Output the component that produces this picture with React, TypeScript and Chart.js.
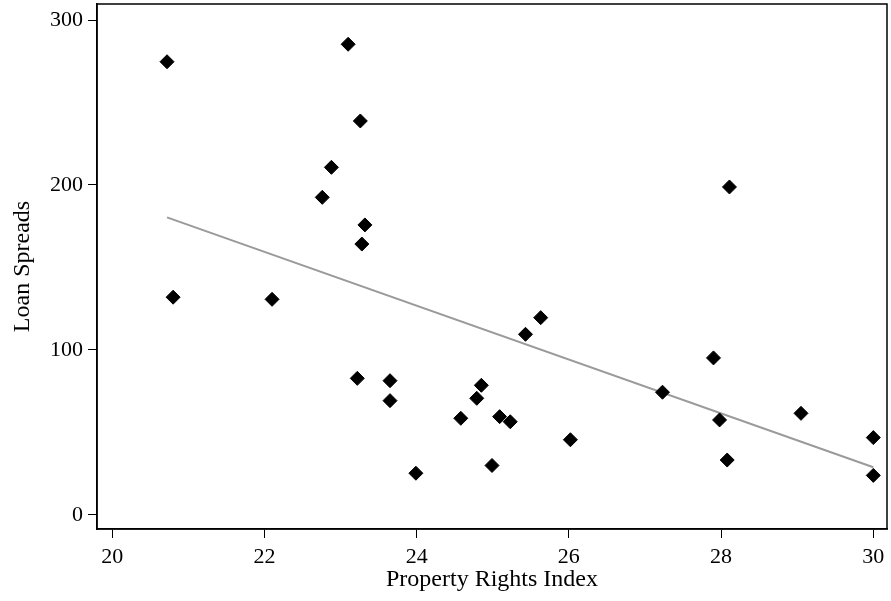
import { useEffect, useRef } from "react";
import { Chart, registerables } from "chart.js";

Chart.register(...registerables);

const propertyRights = [
  20.72, 20.8, 22.1, 23.1, 23.26, 22.88, 22.76, 23.32, 23.28, 23.22,
  23.65, 23.65, 23.99, 24.58, 24.79, 24.85, 24.99, 25.09, 25.23, 25.43,
  25.63, 28.11, 27.9, 27.23, 27.98, 29.05, 30.0, 28.08, 26.02, 30.0,
];
const loanSpreads = [
  274.7, 132, 130.7, 285.3, 238.8, 210.7, 192.5, 175.8, 164.2, 82.8,
  81.4, 69.3, 25.3, 58.6, 70.7, 78.6, 30, 59.6, 56.5, 109.5,
  119.6, 198.8, 95.2, 74.4, 57.6, 61.6, 46.9, 33.3, 45.6, 24,
];
const fitX = [20.72, 30.0];
const fitY = [180.4, 28.9];
const xTicks = [20, 22, 24, 26, 28, 30];
const yTicks = [0, 100, 200, 300];

const FONT = "'Liberation Serif', 'Times New Roman', serif";

const framePlugin = {
  id: "frame",
  afterDraw(chart: any) {
    const { ctx, chartArea } = chart;
    ctx.save();
    ctx.strokeStyle = "#000";
    ctx.lineWidth = 1.5;
    ctx.strokeRect(chartArea.left, chartArea.top, chartArea.right - chartArea.left, chartArea.bottom - chartArea.top);
    ctx.restore();
  },
};

export default function App() {
  const ref = useRef<HTMLCanvasElement | null>(null);
  useEffect(() => {
    document.body.style.margin = "0";
    const canvas = ref.current!;
    const chart = new Chart(canvas, {
      type: "scatter",
      data: {
        datasets: [
          {
            type: "line",
            data: fitX.map((x, i) => ({ x, y: fitY[i] })),
            borderColor: "#9a9a9a",
            borderWidth: 2,
            pointRadius: 0,
            fill: false,
            order: 2,
          } as any,
          {
            type: "scatter",
            data: propertyRights.map((x, i) => ({ x, y: loanSpreads[i] })),
            pointStyle: "rectRot",
            pointRadius: 7,
            backgroundColor: "#000",
            borderColor: "#000",
            borderWidth: 1,
            order: 1,
          },
        ],
      },
      options: {
        animation: false,
        responsive: false,
        maintainAspectRatio: false,
        layout: { autoPadding: false, padding: { left: 0, top: 4, right: 4, bottom: 0 } },
        plugins: { legend: { display: false }, tooltip: { enabled: false } },
        scales: {
          x: {
            type: "linear",
            min: 19.8,
            max: 30.18,
            afterBuildTicks: (s: any) => {
              s.ticks = xTicks.map((v) => ({ value: v }));
            },
            afterFit: (s: any) => {
              s.height = 72;
              s.paddingLeft = 0;
              s.paddingRight = 0;
            },
            grid: { display: true, drawOnChartArea: false, drawTicks: true, tickLength: 9, color: "#000", lineWidth: 1 },
            border: { display: true, color: "#000", width: 1.5 },
            ticks: { color: "#000", font: { family: FONT, size: 22 }, padding: 6, maxRotation: 0 },
            title: {
              display: true,
              text: "Property Rights Index",
              color: "#000",
              font: { family: FONT, size: 24 },
              padding: { top: 0, bottom: 7 },
            },
          },
          y: {
            type: "linear",
            min: -8.5,
            max: 309.7,
            afterBuildTicks: (s: any) => {
              s.ticks = yTicks.map((v) => ({ value: v }));
            },
            afterFit: (s: any) => {
              s.width = 97;
              s.paddingTop = 0;
              s.paddingBottom = 0;
            },
            grid: { display: true, drawOnChartArea: false, drawTicks: true, tickLength: 9, color: "#000", lineWidth: 1 },
            border: { display: true, color: "#000", width: 1.5 },
            ticks: { color: "#000", font: { family: FONT, size: 22 }, padding: 5 },
            title: {
              display: true,
              text: "Loan Spreads",
              color: "#000",
              font: { family: FONT, size: 24 },
              padding: { top: 8, bottom: 0 },
            },
          },
        },
      },
      plugins: [framePlugin],
    });
    return () => chart.destroy();
  }, []);
  return (
    <div style={{ position: "absolute", left: 0, top: 0, width: 891, height: 601, background: "#fff" }}>
      <canvas ref={ref} width={891} height={601} style={{ display: "block", width: 891, height: 601 }} />
    </div>
  );
}
